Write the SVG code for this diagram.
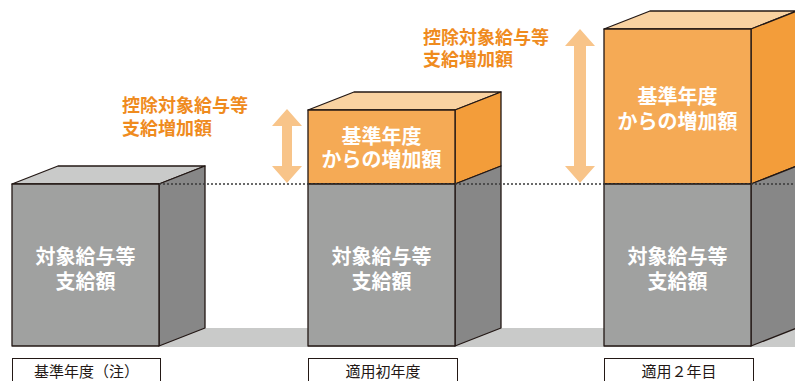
<svg xmlns="http://www.w3.org/2000/svg" width="795" height="381" viewBox="0 0 795 381">
<style>
.gf{fill:#a0a1a0}.gs{fill:#878787}.gt{fill:#c9cac9}
.of{fill:#f5aa55}.os{fill:#f39d3a}.ot{fill:#f9d2a1}
.e{stroke:#231815;stroke-width:1.3;stroke-linejoin:round}
.wt{font-family:"Noto Sans CJK JP",sans-serif;font-weight:bold;font-size:20px;fill:#ffffff;text-anchor:middle}
.ann{font-family:"Noto Sans CJK JP",sans-serif;font-weight:bold;font-size:18px;fill:#ef8b1e}
.lb{font-family:"Noto Sans CJK JP",sans-serif;font-size:15px;fill:#231815;text-anchor:middle}
.lbox{fill:#ffffff;stroke:#231815;stroke-width:1}
.arr{fill:#f8c489}
</style>
<rect x="0" y="0" width="795" height="381" fill="#ffffff"/>
<rect x="160" y="328" width="635" height="19" fill="#c9cac9"/>
<g id="box1">
<polygon class="gt e" points="12,184 58,166 205,166 159,184"/>
<polygon class="gs e" points="159,184 205,166 205,328 159,346"/>
<rect class="gf e" x="12" y="184" width="147" height="162"/>
<text class="wt"><tspan x="85.5" y="264">対象給与等</tspan><tspan x="85.5" y="289">支給額</tspan></text>
</g>
<g id="box2">
<polygon class="ot e" points="308,110 354,92 501,92 455,110"/>
<polygon class="os e" points="455,110 501,92 501,166 455,184"/>
<polygon class="gs e" points="455,184 501,166 501,328 455,346"/>
<rect class="of e" x="308" y="110" width="147" height="74"/>
<rect class="gf e" x="308" y="184" width="147" height="162"/>
<text class="wt"><tspan x="381.5" y="144">基準年度</tspan><tspan x="381.5" y="167">からの増加額</tspan></text>
<text class="wt"><tspan x="381.5" y="264">対象給与等</tspan><tspan x="381.5" y="289">支給額</tspan></text>
</g>
<g id="box3">
<polygon class="ot e" points="604,29 650,11 797,11 751,29"/>
<polygon class="os e" points="751,29 797,11 797,166 751,184"/>
<polygon class="gs e" points="751,184 797,166 797,328 751,346"/>
<rect class="of e" x="604" y="29" width="147" height="155"/>
<rect class="gf e" x="604" y="184" width="147" height="162"/>
<text class="wt"><tspan x="677.5" y="104">基準年度</tspan><tspan x="677.5" y="129">からの増加額</tspan></text>
<text class="wt"><tspan x="677.5" y="264">対象給与等</tspan><tspan x="677.5" y="289">支給額</tspan></text>
</g>
<g id="connectors">
<line x1="159" y1="184" x2="795" y2="184" stroke="#3a3a3a" stroke-width="1.5" stroke-dasharray="2,2"/>
<polygon class="arr" points="287,109 302,126 292,126 292,166 302,166 287,183 272,166 282,166 282,126 272,126"/>
<polygon class="arr" points="580,29 595,46 586,46 586,166 595,166 580,183 565,166 574,166 574,46 565,46"/>
</g>
<g id="ann1">
<text class="ann"><tspan x="122" y="112">控除対象給与等</tspan><tspan x="122" y="135">支給増加額</tspan></text>
</g>
<g id="ann2">
<text class="ann"><tspan x="423" y="44">控除対象給与等</tspan><tspan x="423" y="66">支給増加額</tspan></text>
</g>
<g id="label1">
<rect class="lbox" x="12.5" y="358.5" width="148" height="30"/>
<text class="lb" x="86.5" y="377">基準年度（注）</text>
</g>
<g id="label2">
<rect class="lbox" x="308.5" y="358.5" width="149" height="30"/>
<text class="lb" x="383" y="377">適用初年度</text>
</g>
<g id="label3">
<rect class="lbox" x="604.5" y="358.5" width="149" height="30"/>
<text class="lb" x="679" y="377">適用２年目</text>
</g>
</svg>
